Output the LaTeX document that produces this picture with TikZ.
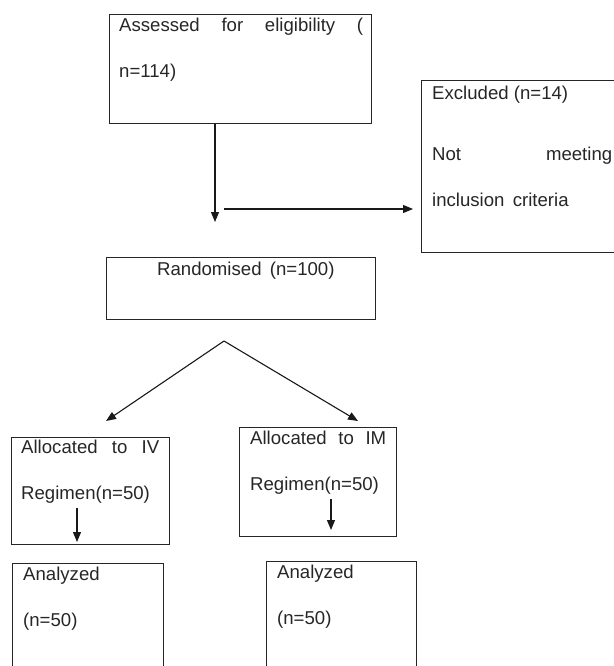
\documentclass[tikz,border=0pt]{standalone}
\usepackage{fontspec}
\setmainfont{Liberation Sans}
\usetikzlibrary{arrows.meta}
\begin{document}
\begin{tikzpicture}[x=1pt,y=-1pt,
  box/.style={draw=black!85,line width=1.1pt,anchor=north west,inner sep=0pt,fill=none},
  txt/.style={anchor=base west,inner sep=0pt,text=black!85,font=\fontsize{18.6}{22}\selectfont},
  arr/.style={draw=black!90,line width=1.1pt,-{Triangle[length=10pt,width=8pt]}},
  ln/.style={draw=black!90,line width=1.1pt}]
\useasboundingbox (0,0) rectangle (613,666);
% boxes
\node[box,minimum width=262pt,minimum height=109pt] (assess) at (109,14) {};
\node[box,minimum width=200pt,minimum height=172pt] (excl) at (421,80) {};
\node[box,minimum width=269pt,minimum height=62pt] (rand) at (106,257) {};
\node[box,minimum width=158pt,minimum height=107pt] (iv) at (11,437) {};
\node[box,minimum width=157pt,minimum height=109pt] (im) at (239,427) {};
\node[box,minimum width=151pt,minimum height=130pt] (anl) at (12,563) {};
\node[box,minimum width=150pt,minimum height=130pt] (anr) at (266,561) {};
% texts
\node[txt] (t1) at (119,31.6) {\makebox[244pt][s]{Assessed for eligibility (}};
\node[txt] (t2) at (119,77.6) {n=114)};
\node[txt] (t3) at (432,99.5) {Excluded (n=14)};
\node[txt] (t4) at (432,160.5) {\makebox[180pt][s]{Not meeting}};
\node[txt] (t5) at (432,206.5) {inclusion\, criteria};
\node[txt] (t6) at (157,275.5) {Randomised\, (n=100)};
\node[txt] (t7) at (21,453.5) {\makebox[138pt][s]{Allocated to IV}};
\node[txt] (t8) at (21,499.5) {Regimen(n=50)};
\node[txt] (t9) at (250,444.5) {\makebox[136pt][s]{Allocated to IM}};
\node[txt] (t10) at (250,490.5) {Regimen(n=50)};
\node[txt] (t11) at (23,580.5) {Analyzed};
\node[txt] (t12) at (23,626.5) {(n=50)};
\node[txt] (t13) at (277,578.5) {Analyzed};
\node[txt] (t14) at (277,624) {(n=50)};
% connector points
\coordinate (tipA) at (215,222);
\coordinate (hstart) at (224,209);
\coordinate (apex) at (224,341);
\coordinate (tipL) at (106,421);
\coordinate (tipR) at (358,421);
\coordinate (ivs) at (77,508);
\coordinate (ivt) at (77,542);
\coordinate (ims) at (331,499);
\coordinate (imt) at (331,530);
% connectors
\draw[arr] (tipA |- assess.south) -- (tipA);
\draw[arr,shorten >=8pt] (hstart) -- (hstart -| excl.west);
\draw[arr] (apex) -- (tipL);
\draw[arr] (apex) -- (tipR);
\draw[arr] (ivs) -- (ivt);
\draw[arr] (ims) -- (imt);
\end{tikzpicture}
\end{document}
